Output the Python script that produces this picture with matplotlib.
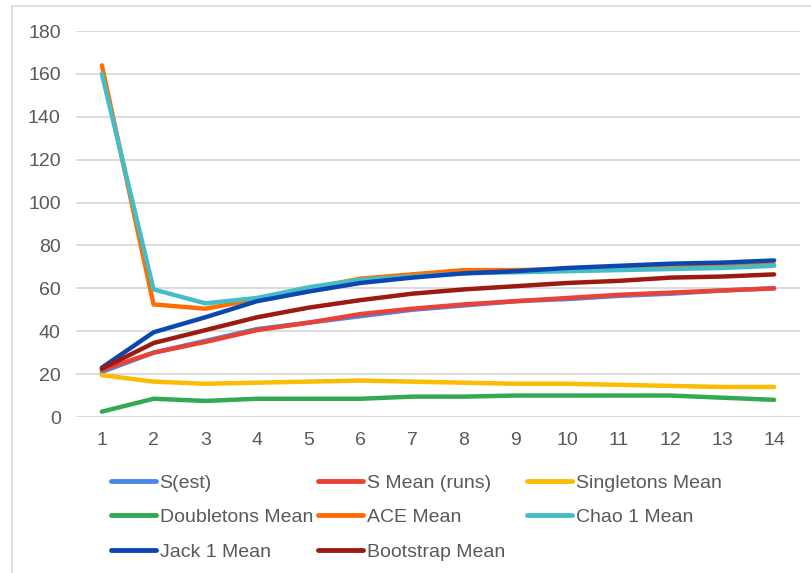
import numpy as np
import matplotlib.pyplot as plt
from matplotlib.patches import Rectangle

plt.rcParams['font.family'] = ['Liberation Sans', 'DejaVu Sans']

# ======================================================
# DATA
# ======================================================

samples = list(range(1, 15))

s_est = [21, 30, 35.5, 41, 44, 47, 50, 52, 54, 55, 56.5, 57.5, 59, 60]
s_mean_runs = [22, 30, 35, 40.5, 44, 48, 50.5, 52.5, 54, 55.5, 57, 58, 59, 60]
singletons = [19.5, 16.5, 15.5, 16, 16.5, 17, 16.5, 16, 15.5, 15.5, 15, 14.5, 14, 14]
doubletons = [2.5, 8.5, 7.5, 8.5, 8.5, 8.5, 9.5, 9.5, 10, 10, 10, 10, 9, 8]
ace = [164, 52.5, 50.5, 55, 60, 64.5, 66.5, 68.5, 68.5, 69, 69.5, 70, 70.5, 71]
chao1 = [160, 59.5, 53, 55.5, 60.5, 64, 65.5, 67, 67.5, 68, 68.5, 69, 69.5, 70.5]
jack1 = [23, 39.5, 46.5, 54, 58.5, 62.5, 65, 67, 68, 69.5, 70.5, 71.5, 72, 73]
bootstrap = [22.5, 34.5, 40.5, 46.5, 51, 54.5, 57.5, 59.5, 61, 62.5, 63.5, 65, 65.5, 66.5]

series = [
    ("S(est)", s_est, "#4A86E8"),
    ("S Mean (runs)", s_mean_runs, "#EA4335"),
    ("Singletons Mean", singletons, "#FBBC04"),
    ("Doubletons Mean", doubletons, "#34A853"),
    ("ACE Mean", ace, "#FF6D01"),
    ("Chao 1 Mean", chao1, "#46BDC6"),
    ("Jack 1 Mean", jack1, "#0B47B0"),
    ("Bootstrap Mean", bootstrap, "#9B1B12"),
]

# ======================================================
# GRAPH
# ======================================================

fig = plt.figure(figsize=(8.11, 5.73), dpi=100)
ax = fig.add_axes([76 / 811, 1 - 417 / 573, 724 / 811, 386 / 573])

lines = []
for label, values, color in series:
    line, = ax.plot(samples, values, color=color, linewidth=3.2, label=label,
                    solid_capstyle="round", solid_joinstyle="round")
    lines.append(line)

ax.set_xlim(0.5, 14.5)
ax.set_ylim(0, 180)
ax.set_xticks(samples)
ax.set_yticks(np.arange(0, 181, 20))
ax.grid(axis="y", color="#d9d9d9", linewidth=1.3)
ax.set_axisbelow(True)
for spine in ax.spines.values():
    spine.set_visible(False)
ax.tick_params(length=0, labelsize=14, colors="#595959")
ax.tick_params(axis="x", pad=11)
ax.tick_params(axis="y", pad=11)

# legend laid out row by row, three entries per row
col_x = [111, 318, 527]
for col in range(3):
    handles = lines[col::3]
    leg = fig.legend(handles=handles, labels=[h.get_label() for h in handles],
                     loc="upper left",
                     bbox_to_anchor=(col_x[col] / 811, 1 - 474 / 573),
                     frameon=False, fontsize=14, handlelength=2.3,
                     handletextpad=0.2, labelspacing=0.87,
                     borderpad=0, borderaxespad=0)
    for text in leg.get_texts():
        text.set_color("#595959")
    for line in leg.get_lines():
        line.set_linewidth(3.5)

fig.patches.append(Rectangle((12 / 811, -0.1), 1.2, 1 - 6 / 573 + 0.1,
                             transform=fig.transFigure, fill=False,
                             edgecolor="#d9d9d9", linewidth=1.2))

plt.savefig("out.png")
